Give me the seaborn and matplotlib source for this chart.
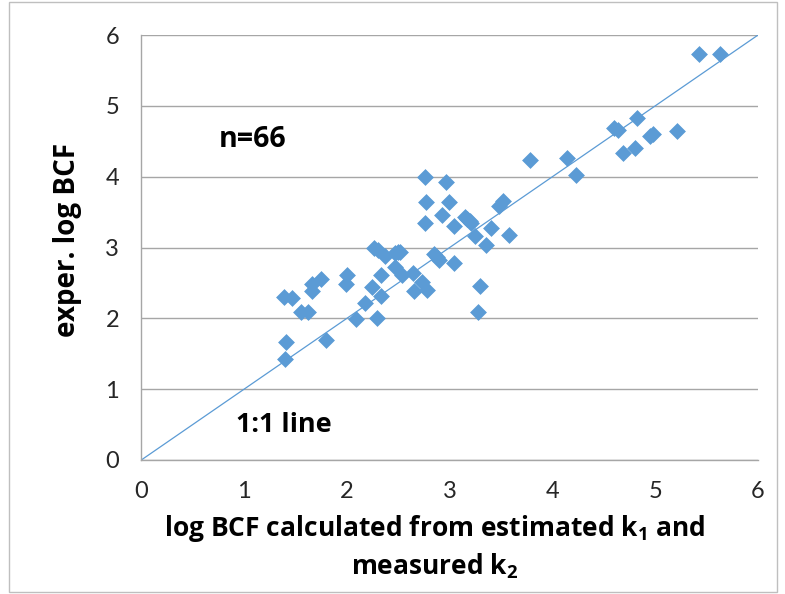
import matplotlib
matplotlib.use("Agg")
import matplotlib.pyplot as plt
import pandas as pd
import seaborn as sns

# values
calc_log_bcf = [
    1.39, 1.47, 1.55, 1.62, 1.66, 1.66, 1.75, 2.00, 1.99, 2.09, 1.41, 1.40, 1.80,
    2.76, 2.96, 2.77, 2.99, 2.93, 2.76, 3.04, 3.15, 3.20, 3.21, 3.40, 3.52, 3.48,
    3.58, 3.25, 3.35, 2.26, 2.30, 2.37, 2.47, 2.52, 2.47, 2.54, 2.64, 2.85, 2.90,
    3.04, 2.33, 2.24, 2.33, 2.18, 2.29, 2.65, 2.73, 2.78, 3.30, 3.28, 3.78,
    5.43, 5.63, 4.82, 4.60, 4.64, 4.98, 4.95, 5.21, 4.80, 4.69, 4.14, 4.23,
    2.50, 2.88, 3.17,
]
exp_log_bcf = [
    2.30, 2.29, 2.09, 2.09, 2.49, 2.39, 2.56, 2.61, 2.48, 1.99, 1.66, 1.42, 1.69,
    3.99, 3.92, 3.64, 3.64, 3.46, 3.34, 3.30, 3.43, 3.37, 3.34, 3.28, 3.66, 3.58,
    3.18, 3.16, 3.03, 2.99, 2.96, 2.88, 2.92, 2.93, 2.73, 2.61, 2.64, 2.91, 2.82,
    2.78, 2.61, 2.44, 2.31, 2.21, 2.01, 2.38, 2.52, 2.40, 2.46, 2.09, 4.23,
    5.73, 5.73, 4.83, 4.69, 4.66, 4.60, 4.57, 4.64, 4.41, 4.34, 4.27, 4.03,
    2.93, 2.87, 3.40,
]
ticks = [0, 1, 2, 3, 4, 5, 6]

df = pd.DataFrame({"calc": calc_log_bcf, "exp": exp_log_bcf})

sns.set_style("white")
plt.rcParams["font.family"] = ["Open Sans", "DejaVu Sans"]
plt.rcParams["mathtext.fontset"] = "custom"
plt.rcParams["mathtext.rm"] = "Open Sans:bold"
plt.rcParams["mathtext.bf"] = "Open Sans:bold"
plt.rcParams["mathtext.it"] = "Open Sans:bold"

blue = "#5B9BD5"
grid_gray = "#A6A6A6"
bold_text = dict(family=["Open Sans", "DejaVu Sans"], fontweight="bold", color="black")

fig = plt.figure(figsize=(7.85, 5.94), dpi=100)
ax = fig.add_axes([0.180, 0.2256, 0.7856, 0.7154])

sns.lineplot(x=[0, 6], y=[0, 6], color=blue, linewidth=0.9, ax=ax)
sns.scatterplot(data=df, x="calc", y="exp", marker="D", s=65, color=blue,
                edgecolor=blue, linewidth=0.5, ax=ax, zorder=3)

ax.set_xlim(0, 6)
ax.set_ylim(0, 6)
ax.set_xticks(ticks)
ax.set_yticks(ticks)
ax.yaxis.grid(True, color=grid_gray, linewidth=1)
ax.set_axisbelow(True)

for side in ["top", "right"]:
    ax.spines[side].set_visible(False)
for side in ["left", "bottom"]:
    ax.spines[side].set_color(grid_gray)
    ax.spines[side].set_linewidth(1)

ax.tick_params(axis="both", direction="out", length=7, width=1, color=grid_gray,
               labelsize=17, labelcolor="#262626")
ax.tick_params(axis="x", pad=8)
ax.tick_params(axis="y", pad=9)
for lbl in ax.get_xticklabels() + ax.get_yticklabels():
    lbl.set_family(["Lato", "DejaVu Sans"])

ax.set_xlabel("log BCF calculated from estimated k$_{1}$ and\nmeasured k$_{2}$",
              fontsize=19, linespacing=1.3, **bold_text)
ax.xaxis.set_label_coords(0.476, -0.125)
ax.set_ylabel("")
fig.text(67 / 785, 1 - 240 / 594, "exper. log BCF", rotation=90, ha="center",
         va="center", fontsize=20, **bold_text)

ax.text(0.75, 4.52, "n=66", fontsize=20.5, va="center", **bold_text)
ax.text(0.92, 0.49, "1:1 line", fontsize=19.5, va="center", **bold_text)

# outer frame around the whole chart
fig.patches.append(plt.Rectangle((0.011, 0.003), 0.979, 0.994, transform=fig.transFigure,
                                 fill=False, edgecolor="#BFBFBF", linewidth=1))

fig.savefig("out.png", dpi=100)
